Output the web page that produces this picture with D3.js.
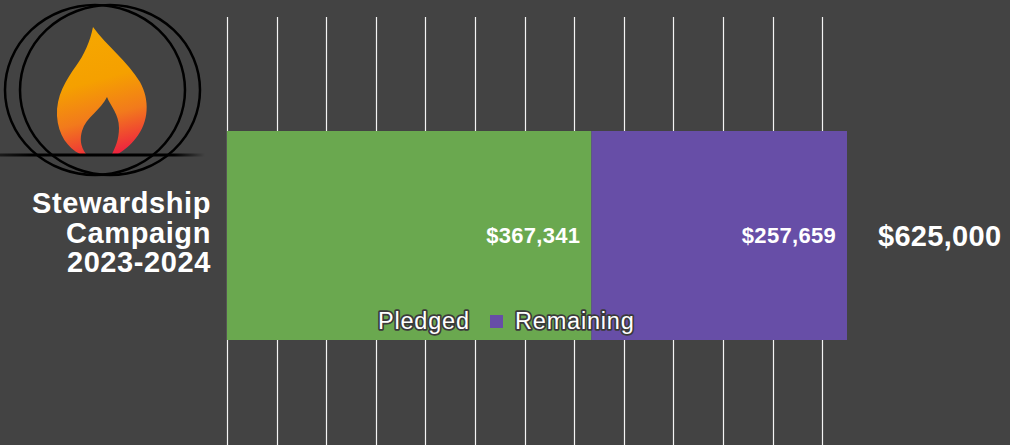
<!DOCTYPE html>
<html><head><meta charset="utf-8">
<script src="https://cdn.jsdelivr.net/npm/d3@7"></script>
<style>
html,body{margin:0;padding:0;background:#434343;}
svg{display:block;}
text{font-family:"Liberation Sans",Arial,sans-serif;}
</style></head>
<body>
<script>
const categories = ["Stewardship Campaign 2023-2024"];
const categoryLines = ["Stewardship", "Campaign", "2023-2024"];
const seriesNames = ["Pledged", "Remaining"];
const pledged = [367341];
const remaining = [257659];
const goal = [625000];
const gridValues = [0, 50000, 100000, 150000, 200000, 250000, 300000, 350000, 400000, 450000, 500000, 550000, 600000];
const seriesColors = ["#6aa84f", "#674ea7"];

const W = 1010, H = 445;
const svg = d3.select("body").append("svg").attr("width", W).attr("height", H);
svg.append("rect").attr("width", W).attr("height", H).attr("fill", "#434343");

const x = d3.scaleLinear().domain([0, 625000]).range([227, 847]);
const y = d3.scaleBand().domain(categories).range([131, 340]).padding(0);
const color = d3.scaleOrdinal().domain(seriesNames).range(seriesColors);
const fmt = v => "$" + d3.format(",")(v);

// gridlines
svg.append("g").selectAll("line").data(gridValues).join("line")
  .attr("x1", d => Math.round(x(d)) + 0.5).attr("x2", d => Math.round(x(d)) + 0.5)
  .attr("y1", 17).attr("y2", H)
  .attr("stroke", "#f4f4f4").attr("stroke-width", 1.2);

// stacked bars
const rows = categories.map((c, i) => ({cat: c, Pledged: pledged[i], Remaining: remaining[i]}));
const stack = d3.stack().keys(seriesNames)(rows);
const g = svg.append("g");
stack.forEach(layer => {
  g.selectAll(null).data(layer).join("rect")
    .attr("x", d => x(d[0])).attr("width", d => x(d[1]) - x(d[0]))
    .attr("y", d => y(d.data.cat)).attr("height", y.bandwidth())
    .attr("fill", color(layer.key));
  g.selectAll(null).data(layer).join("text")
    .attr("x", d => x(d[1]) - 11)
    .attr("y", d => y(d.data.cat) + y.bandwidth() / 2 + 7)
    .attr("text-anchor", "end").attr("fill", "#fff")
    .attr("font-weight", "bold").attr("font-size", 22).attr("letter-spacing", 0.3)
    .text(d => fmt(d[1] - d[0]));
});

// total label
svg.selectAll(null).data(goal).join("text")
  .attr("x", d => x(d) + 31).attr("y", y(categories[0]) + y.bandwidth() / 2 + 10)
  .attr("fill", "#fff").attr("font-weight", "bold").attr("font-size", 29).attr("letter-spacing", 0.3)
  .text(d => fmt(d));

// category label
const cl = svg.append("text").attr("text-anchor", "end").attr("fill", "#fff")
  .attr("font-weight", "bold").attr("font-size", 29).attr("letter-spacing", 0.6);
categoryLines.forEach((t, i) => {
  cl.append("tspan").attr("x", x(0) - 16).attr("y", 213 + i * 29.5).text(t);
});

// legend
const legendItems = [
  {name: seriesNames[0], sx: 361, tx: 378},
  {name: seriesNames[1], sx: 490, tx: 515}
];
const lg = svg.append("g");
legendItems.forEach(it => {
  lg.append("rect").attr("x", it.sx).attr("y", 315).attr("width", 13).attr("height", 13)
    .attr("fill", color(it.name));
  lg.append("text").attr("x", it.tx).attr("y", 329).attr("fill", "#fff")
    .attr("font-size", 23.5).attr("letter-spacing", 0.8)
    .attr("stroke", "#3a3a3a").attr("stroke-width", 3.5).attr("stroke-linejoin", "round")
    .attr("paint-order", "stroke")
    .text(it.name);
});

// logo
const defs = svg.append("defs");
const fg = defs.append("linearGradient").attr("id", "flame").attr("gradientUnits", "userSpaceOnUse")
  .attr("x1", 80).attr("y1", 27).attr("x2", 115).attr("y2", 155);
fg.append("stop").attr("offset", 0).attr("stop-color", "#f6a800");
fg.append("stop").attr("offset", 0.42).attr("stop-color", "#f5a000");
fg.append("stop").attr("offset", 0.7).attr("stop-color", "#f27a1c");
fg.append("stop").attr("offset", 1).attr("stop-color", "#ee2140");
const lgr = defs.append("linearGradient").attr("id", "hline").attr("gradientUnits", "userSpaceOnUse")
  .attr("x1", 0).attr("y1", 0).attr("x2", 205).attr("y2", 0);
lgr.append("stop").attr("offset", 0).attr("stop-color", "#000").attr("stop-opacity", 0.6);
lgr.append("stop").attr("offset", 0.15).attr("stop-color", "#000").attr("stop-opacity", 1);
lgr.append("stop").attr("offset", 0.85).attr("stop-color", "#000").attr("stop-opacity", 1);
lgr.append("stop").attr("offset", 1).attr("stop-color", "#000").attr("stop-opacity", 0);

const logo = svg.append("g");
logo.append("path")
  .attr("fill", "url(#flame)").attr("fill-rule", "evenodd")
  .attr("d",
    "M93,27 C106,45 128,62 140,82 C150,100 149,122 136,138 C130,146 124,150 118,154 L80,154 C68,148 58,135 57,116 C56,96 66,80 76,66 C84,55 90,42 93,27 Z " +
    "M107,97 C111,107 119,114 119,128 C119,140 115,148 112,154 L86,154 C80,146 80,138 82,131 C86,117 101,110 107,97 Z");
logo.append("ellipse").attr("cx", 95).attr("cy", 90).attr("rx", 90).attr("ry", 85)
  .attr("fill", "none").attr("stroke", "#000").attr("stroke-width", 2.5);
logo.append("ellipse").attr("cx", 110).attr("cy", 90).attr("rx", 90).attr("ry", 85)
  .attr("fill", "none").attr("stroke", "#000").attr("stroke-width", 2.5);
logo.append("rect").attr("x", 0).attr("y", 153.5).attr("width", 205).attr("height", 3)
  .attr("fill", "url(#hline)");
</script>
</body></html>
